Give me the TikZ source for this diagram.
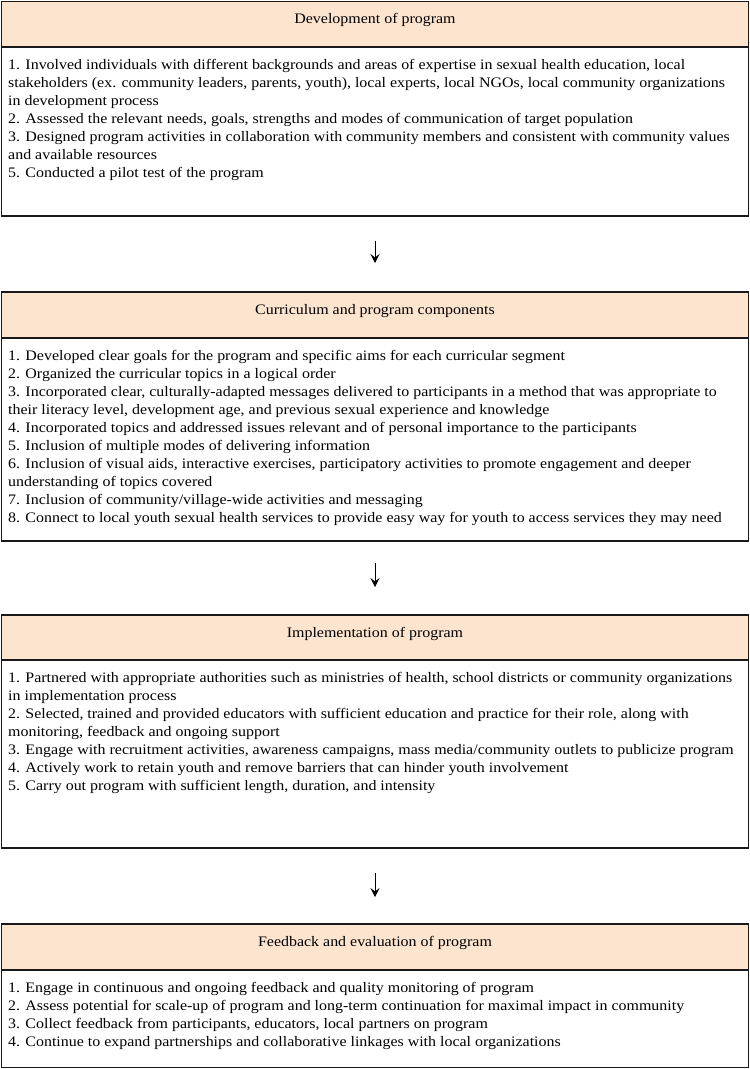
\documentclass[tikz,border=0pt]{standalone}
\usepackage{fontspec}
\setmainfont{Liberation Serif}[FakeStretch=1.10]
\usetikzlibrary{arrows.meta}
\definecolor{peach}{RGB}{252,228,206}
\definecolor{edgecol}{RGB}{25,25,25}
\tikzset{
  boxshape/.style={draw=edgecol, line width=1.4pt, inner sep=0pt, outer sep=0pt,
    minimum width=747pt, anchor=north west, rectangle},
  headbox/.style={boxshape, fill=peach, minimum height=45.5pt},
  headtxt/.style={anchor=base, inner sep=0pt, font=\fontsize{14.5}{18}\selectfont},
  bodytxt/.style={anchor=north west, inner sep=0pt, align=left, font=\fontsize{14.5}{18}\selectfont},
  flowarrow/.style={draw=black, line width=1pt, -{Stealth[length=9pt,width=9pt,inset=3.5pt]}}
}
\newcommand{\fl}{\rule{0pt}{10pt}}
\begin{document}
\begin{tikzpicture}[x=1pt,y=-1pt]
\useasboundingbox (0,0) rectangle (750,1069);
\fill[white] (0,0) rectangle (750,1069);

% Box 1
\node[headbox] (h1) at (1.5,1.5) {};
\node[boxshape, minimum height=169pt] (b1) at (h1.south west) {};
\node[headtxt] (ht1) at ([yshift=-22pt]h1.north) {Development of program};
\node[bodytxt] (bt1) at ([xshift=6.5pt,yshift=-12pt]b1.north west) {\fl 1. Involved individuals with different backgrounds and areas of expertise in sexual health education, local\\
stakeholders (ex. community leaders, parents, youth), local experts, local NGOs, local community organizations\\
in development process\\
2. Assessed the relevant needs, goals, strengths and modes of communication of target population\\
3. Designed program activities in collaboration with community members and consistent with community values\\
and available resources\\
5. Conducted a pilot test of the program};

% Box 2
\node[headbox, minimum height=46pt] (h2) at (1.5,292) {};
\node[boxshape, minimum height=203pt] (b2) at (h2.south west) {};
\node[headtxt] (ht2) at ([yshift=-22pt]h2.north) {Curriculum and program components};
\node[bodytxt] (bt2) at ([xshift=6.5pt,yshift=-12pt]b2.north west) {\fl 1. Developed clear goals for the program and specific aims for each curricular segment\\
2. Organized the curricular topics in a logical order\\
3. Incorporated clear, culturally-adapted messages delivered to participants in a method that was appropriate to\\
their literacy level, development age, and previous sexual experience and knowledge\\
4. Incorporated topics and addressed issues relevant and of personal importance to the participants\\
5. Inclusion of multiple modes of delivering information\\
6. Inclusion of visual aids, interactive exercises, participatory activities to promote engagement and deeper\\
understanding of topics covered\\
7. Inclusion of community/village-wide activities and messaging\\
8. Connect to local youth sexual health services to provide easy way for youth to access services they may need};

% Box 3
\node[headbox, minimum height=45pt] (h3) at (1.5,615) {};
\node[boxshape, minimum height=188pt] (b3) at (h3.south west) {};
\node[headtxt] (ht3) at ([yshift=-22pt]h3.north) {Implementation of program};
\node[bodytxt] (bt3) at ([xshift=6.5pt,yshift=-12pt]b3.north west) {\fl 1. Partnered with appropriate authorities such as ministries of health, school districts or community organizations\\
in implementation process\\
2. Selected, trained and provided educators with sufficient education and practice for their role, along with\\
monitoring, feedback and ongoing support\\
3. Engage with recruitment activities, awareness campaigns, mass media/community outlets to publicize program\\
4. Actively work to retain youth and remove barriers that can hinder youth involvement\\
5. Carry out program with sufficient length, duration, and intensity};

% Box 4
\node[headbox, minimum height=46pt] (h4) at (1.5,924) {};
\node[boxshape, minimum height=97.5pt] (b4) at (h4.south west) {};
\node[headtxt] (ht4) at ([yshift=-22pt]h4.north) {Feedback and evaluation of program};
\node[bodytxt] (bt4) at ([xshift=6.5pt,yshift=-12pt]b4.north west) {\fl 1. Engage in continuous and ongoing feedback and quality monitoring of program\\
2. Assess potential for scale-up of program and long-term continuation for maximal impact in community\\
3. Collect feedback from participants, educators, local partners on program\\
4. Continue to expand partnerships and collaborative linkages with local organizations};

% Arrows
\draw[flowarrow, shorten <=24.5pt, shorten >=29pt] (b1.south) -- (h2.north);
\draw[flowarrow, shorten <=22pt, shorten >=28pt] (b2.south) -- (h3.north);
\draw[flowarrow, shorten <=25pt, shorten >=27pt] (b3.south) -- (h4.north);
\end{tikzpicture}
\end{document}
